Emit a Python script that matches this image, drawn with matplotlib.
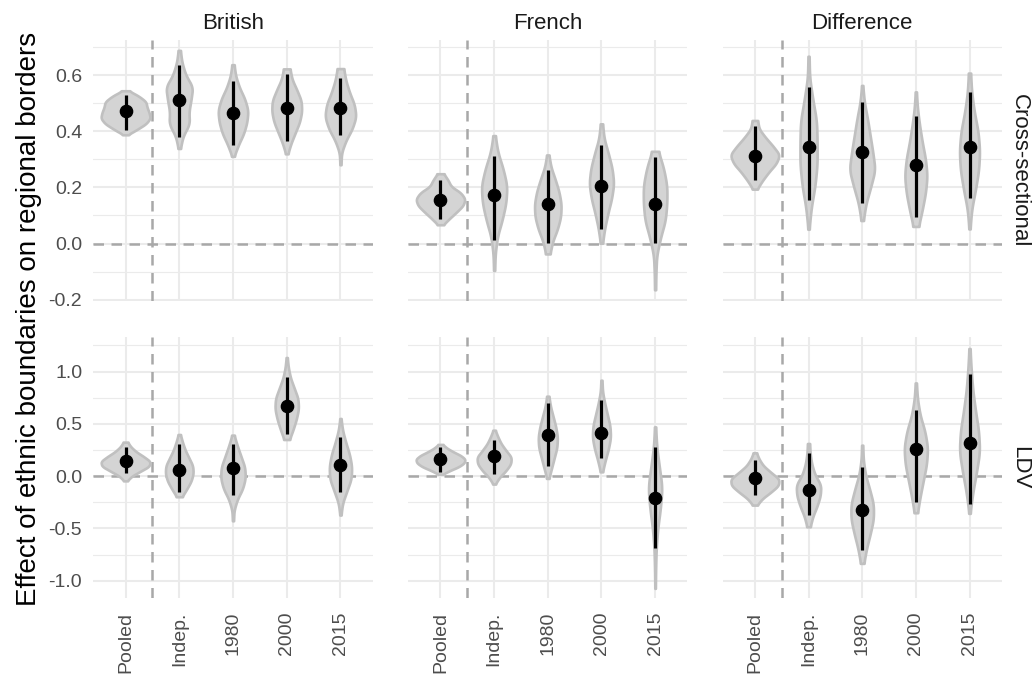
import numpy as np
import matplotlib
matplotlib.use("Agg")
import matplotlib.pyplot as plt

plt.rcParams['font.family'] = ['Liberation Sans', 'DejaVu Sans']

periods = ['Pooled', 'Indep.', '1980', '2000', '2015']
groups = ['British', 'French', 'Difference']
models = ['Cross-sectional', 'LDV']

# point estimates, per group (British, French, Difference) x period
est_cs = [[0.471, 0.513, 0.466, 0.482, 0.482],
          [0.156, 0.172, 0.142, 0.206, 0.142],
          [0.314, 0.344, 0.325, 0.281, 0.344]]
est_ldv = [[0.146, 0.057, 0.073, 0.675, 0.105],
           [0.159, 0.191, 0.392, 0.408, -0.213],
           [-0.016, -0.134, -0.325, 0.258, 0.318]]

# interval bounds (black bars)
ci_lo_cs = [[0.406, 0.380, 0.352, 0.364, 0.388],
            [0.087, 0.013, 0.001, 0.051, 0.001],
            [0.227, 0.154, 0.146, 0.094, 0.162]]
ci_hi_cs = [[0.531, 0.638, 0.579, 0.603, 0.591],
            [0.227, 0.311, 0.263, 0.352, 0.307],
            [0.418, 0.559, 0.504, 0.456, 0.539]]
ci_lo_ldv = [[0.026, -0.150, -0.181, 0.401, -0.150],
             [0.041, 0.019, 0.096, 0.169, -0.691],
             [-0.181, -0.372, -0.707, -0.245, -0.267]]
ci_hi_ldv = [[0.274, 0.303, 0.303, 0.949, 0.376],
             [0.274, 0.344, 0.700, 0.726, 0.280],
             [0.153, 0.223, 0.089, 0.630, 0.981]]

# extent of each violin
vmin_cs = [[0.388, 0.339, 0.311, 0.320, 0.281],
           [0.067, -0.096, -0.037, 0.001, -0.165],
           [0.194, 0.051, 0.082, 0.061, 0.052]]
vmax_cs = [[0.545, 0.689, 0.638, 0.623, 0.624],
           [0.249, 0.385, 0.316, 0.427, 0.329],
           [0.439, 0.668, 0.564, 0.541, 0.608]]
vmin_ldv = [[-0.045, -0.197, -0.427, 0.350, -0.372],
            [0.019, -0.076, -0.022, 0.041, -1.073],
            [-0.277, -0.484, -0.834, -0.350, -0.356]]
vmax_ldv = [[0.325, 0.398, 0.392, 1.134, 0.551],
            [0.303, 0.439, 0.764, 0.917, 0.471],
            [0.223, 0.312, 0.296, 0.891, 1.220]]

# violin half-widths at 9 evenly spaced heights, bottom to top
width_cs = [
    [[0.04, 0.22, 0.38, 0.46, 0.44, 0.40, 0.38, 0.25, 0.06],
     [0.02, 0.07, 0.19, 0.18, 0.22, 0.25, 0.12, 0.05, 0.02],
     [0.02, 0.10, 0.20, 0.26, 0.28, 0.22, 0.12, 0.05, 0.02],
     [0.02, 0.08, 0.16, 0.24, 0.28, 0.27, 0.19, 0.10, 0.06],
     [0.01, 0.02, 0.10, 0.22, 0.29, 0.26, 0.17, 0.10, 0.06]],
    [[0.05, 0.17, 0.30, 0.42, 0.46, 0.38, 0.20, 0.14, 0.06],
     [0.01, 0.02, 0.06, 0.15, 0.22, 0.24, 0.17, 0.07, 0.02],
     [0.04, 0.09, 0.18, 0.24, 0.25, 0.21, 0.14, 0.06, 0.02],
     [0.02, 0.06, 0.12, 0.19, 0.23, 0.20, 0.13, 0.05, 0.02],
     [0.01, 0.015, 0.03, 0.10, 0.19, 0.22, 0.22, 0.16, 0.06]],
    [[0.04, 0.14, 0.26, 0.40, 0.46, 0.34, 0.20, 0.08, 0.05],
     [0.01, 0.05, 0.12, 0.16, 0.16, 0.15, 0.08, 0.02, 0.01],
     [0.02, 0.07, 0.16, 0.24, 0.20, 0.15, 0.10, 0.04, 0.01],
     [0.05, 0.12, 0.18, 0.21, 0.18, 0.12, 0.07, 0.03, 0.01],
     [0.01, 0.04, 0.11, 0.17, 0.19, 0.16, 0.09, 0.04, 0.02]],
]
width_ldv = [
    [[0.03, 0.12, 0.28, 0.44, 0.46, 0.34, 0.20, 0.10, 0.04],
     [0.05, 0.14, 0.22, 0.26, 0.25, 0.18, 0.11, 0.06, 0.02],
     [0.01, 0.02, 0.08, 0.18, 0.23, 0.22, 0.15, 0.08, 0.02],
     [0.05, 0.12, 0.18, 0.22, 0.21, 0.14, 0.07, 0.03, 0.01],
     [0.01, 0.04, 0.12, 0.20, 0.21, 0.17, 0.10, 0.04, 0.01]],
    [[0.04, 0.18, 0.34, 0.44, 0.46, 0.38, 0.24, 0.12, 0.04],
     [0.02, 0.10, 0.22, 0.31, 0.32, 0.22, 0.13, 0.07, 0.02],
     [0.02, 0.07, 0.12, 0.17, 0.18, 0.15, 0.10, 0.05, 0.02],
     [0.02, 0.07, 0.13, 0.17, 0.16, 0.11, 0.06, 0.02, 0.01],
     [0.005, 0.01, 0.02, 0.05, 0.10, 0.13, 0.08, 0.03, 0.01]],
    [[0.04, 0.14, 0.30, 0.44, 0.45, 0.30, 0.16, 0.08, 0.03],
     [0.03, 0.08, 0.16, 0.22, 0.23, 0.12, 0.06, 0.03, 0.02],
     [0.03, 0.08, 0.15, 0.21, 0.21, 0.14, 0.06, 0.02, 0.01],
     [0.03, 0.08, 0.14, 0.20, 0.22, 0.17, 0.08, 0.03, 0.01],
     [0.01, 0.06, 0.13, 0.19, 0.17, 0.11, 0.06, 0.03, 0.01]],
]

y_major = [[-0.2, 0.0, 0.2, 0.4, 0.6], [-1.0, -0.5, 0.0, 0.5, 1.0]]
y_minor = [[-0.1, 0.1, 0.3, 0.5, 0.7], [-0.75, -0.25, 0.25, 0.75, 1.25]]
y_labels = [['-0.2', '0.0', '0.2', '0.4', '0.6'], ['-1.0', '-0.5', '0.0', '0.5', '1.0']]
y_limits = [(-0.205, 0.726), (-1.165, 1.33)]

rows = [
    (est_cs, ci_lo_cs, ci_hi_cs, vmin_cs, vmax_cs, width_cs),
    (est_ldv, ci_lo_ldv, ci_hi_ldv, vmin_ldv, vmax_ldv, width_ldv),
]

W, H = 1036, 679
fig = plt.figure(figsize=(W / 100, H / 100), dpi=100)

col_x = [(93.3, 372.7), (408.3, 687.3), (722.7, 1001.7)]
row_y = [(40, 301), (337, 598)]

GRID = '#EBEBEB'
DASH = '#A8A8A8'


def smooth_outline(lo, hi, w):
    yk = np.linspace(lo, hi, len(w))
    yy = np.linspace(lo, hi, 240)
    ww = np.interp(yy, yk, w)
    k = np.ones(25) / 25
    ww = np.convolve(np.pad(ww, 12, mode='edge'), k, mode='valid')
    return yy, ww


for r, (est, clo, chi, vlo, vhi, wid) in enumerate(rows):
    for c in range(3):
        x0, x1 = col_x[c]
        y0, y1 = row_y[r]
        ax = fig.add_axes([x0 / W, 1 - y1 / H, (x1 - x0) / W, (y1 - y0) / H])
        ax.set_xlim(0.4, 5.6)
        ax.set_ylim(*y_limits[r])
        for s in ax.spines.values():
            s.set_visible(False)
        ax.tick_params(length=0)

        # grid
        for yv in y_minor[r]:
            ax.axhline(yv, color=GRID, lw=0.8, zorder=0)
        for yv in y_major[r]:
            ax.axhline(yv, color=GRID, lw=1.5, zorder=0)
        pos = np.arange(1, 6)
        for xv in pos:
            ax.axvline(xv, color=GRID, lw=1.5, zorder=0)

        # reference lines
        ax.axhline(0, color=DASH, lw=1.8, dashes=(4.2, 3), zorder=1)
        ax.axvline(1.5, color=DASH, lw=1.8, dashes=(4.2, 3), zorder=1)

        for i, p in enumerate(pos):
            yy, ww = smooth_outline(vlo[c][i], vhi[c][i], wid[c][i])
            ax.fill_betweenx(yy, p - ww, p + ww, facecolor='#D4D4D4',
                             edgecolor='#C0C0C0', lw=1.9, zorder=2)
            ax.vlines(p, clo[c][i], chi[c][i], color='black', lw=2.3, zorder=3)
        ax.plot(pos, est[c], 'o', color='black', ms=8.8, zorder=4)

        ax.set_yticks(y_major[r])
        if c == 0:
            ax.set_yticklabels(y_labels[r], fontsize=14, color='#4D4D4D')
            ax.tick_params(axis='y', pad=8)
        else:
            ax.set_yticklabels([])
        ax.set_xticks(pos)
        if r == 1:
            ax.set_xticklabels(periods, rotation=90, fontsize=14, color='#4D4D4D')
            ax.tick_params(axis='x', pad=10)
        else:
            ax.set_xticklabels([])

        if r == 0:
            ax.set_title(groups[c], fontsize=16, color='#1A1A1A', pad=8)
        if c == 2:
            ax.text(1.065, 0.5, models[r], transform=ax.transAxes, rotation=-90,
                    ha='center', va='center', fontsize=16, color='#1A1A1A')

fig.text(29 / W, 1 - 319 / H, 'Effect of ethnic boundaries on regional borders',
         rotation=90, ha='center', va='center', fontsize=20, color='black')

fig.savefig('out.png', dpi=100)
